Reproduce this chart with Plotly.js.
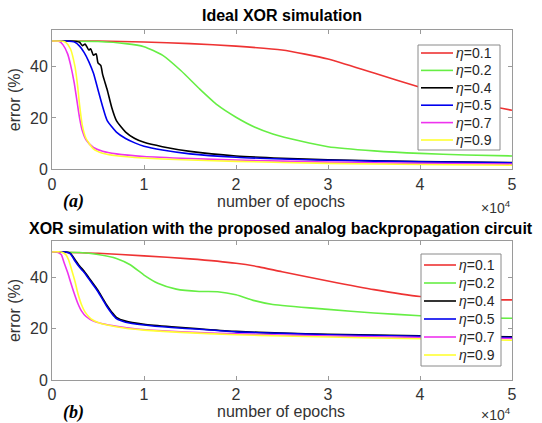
<!DOCTYPE html>
<html>
<head>
<meta charset="utf-8">
<script src="https://cdn.plot.ly/plotly-3.0.1.min.js"></script>
<style>html,body{margin:0;padding:0;background:#fff;}#chart{width:542px;height:423px;}</style>
</head>
<body>
<div id="chart"></div>
<script>
// x values in units of 10^4 epochs
const labels = ["η=0.1","η=0.2","η=0.4","η=0.5","η=0.7","η=0.9"];
const colors = ["#ee3333","#66ee44","#000000","#0000ee","#ee33ee","#ffff33"];

// (a) Ideal XOR simulation
const a_x01 = [0,0.5,1,1.5,2,2.5,3,3.5,4,4.5,5];
const a_y01 = [50,50,49.6,49,48,46.5,43,37.5,32,26.5,23];
const a_x02 = [0,0.5,0.8,1,1.2,1.4,1.6,1.8,2,2.2,2.4,2.7,3,3.5,4,4.5,5];
const a_y02 = [50,49.8,49,47.8,44.5,38.5,31.5,25,20.3,16.5,13.8,11,8.8,7.2,6.2,5.6,5.2];
const a_x04 = [0,0.2,0.3,0.33,0.36,0.4,0.42,0.45,0.48,0.5,0.53,0.55,0.6,0.65,0.7,0.8,0.9,1,1.2,1.5,2,2.5,3,4,5];
const a_y04 = [50,50,49.5,48.2,48.8,46.5,47,44.5,45,41.5,40.5,37,31,24,19,14.5,12,10.5,8.8,7,5.2,4.3,3.7,3.0,2.6];
const a_x05 = [0,0.15,0.25,0.3,0.35,0.4,0.45,0.5,0.55,0.6,0.7,0.8,0.9,1,1.2,1.5,2,2.5,3,4,5];
const a_y05 = [50,50,49.5,48,45.5,42,37.5,31,24.5,19,14.5,12,10.3,9,7.5,6,4.7,4,3.5,2.9,2.5];
const a_x07 = [0,0.08,0.12,0.17,0.2,0.24,0.27,0.3,0.33,0.37,0.45,0.55,0.7,1,1.5,2,3,4,5];
const a_y07 = [50,49.8,48.5,45,41,34,27,20,15,11.5,8.5,7,6,5,4.2,3.6,2.8,2.3,2];
const a_x09 = [0,0.1,0.15,0.2,0.25,0.28,0.3,0.33,0.37,0.45,0.55,0.7,1,1.5,2,3,4,5];
const a_y09 = [50,50,49.5,47,40,32,25,17,12,8,6.3,5.3,4.4,3.6,3.1,2.3,1.9,1.6];

// (b) XOR simulation with the proposed analog backpropagation circuit
const b_x01 = [0,0.5,1,1.5,2,2.25,2.5,3,3.5,4,4.5,5];
const b_y01 = [50,49.5,48.5,47.3,45.6,44.2,42.3,38.7,35.3,32.6,31.6,31.3];
const b_x02 = [0,0.3,0.5,0.7,0.85,1,1.15,1.35,1.6,1.8,2,2.2,2.4,3,3.5,4,4.5,5];
const b_y02 = [50,49.8,49,47.5,45,41,37.8,35.5,34.6,34.5,33.3,31,29.5,27.6,26.2,25.1,24.4,24.1];
const b_x04 = [0,0.15,0.2,0.25,0.3,0.35,0.4,0.45,0.5,0.55,0.6,0.65,0.7,0.8,1,1.3,1.6,2,2.5,3,4,5];
const b_y04 = [50,50,49.5,47,44.5,42.5,40,37.5,35,32,29,26.5,24.5,23,21.8,20.8,20,19,18.3,17.9,17.3,16.9];
const b_x05 = [0,0.15,0.2,0.25,0.3,0.35,0.4,0.45,0.5,0.55,0.6,0.65,0.7,0.8,1,1.3,1.6,2,2.5,3,4,5];
const b_y05 = [50,50,49.3,46.5,44,42,39.5,37,34.5,31.5,28.5,26,24,22.6,21.5,20.5,19.8,18.8,18.2,17.7,17.1,16.6];
const b_x07 = [0,0.05,0.1,0.13,0.17,0.2,0.24,0.28,0.32,0.37,0.45,0.55,0.7,0.9,1.2,1.6,2,2.5,3,4,5];
const b_y07 = [50,50,49,46,42,38.5,34,30,27,24.8,23,22,21,20,19.2,18.5,18,17.6,17.2,16.6,16.2];
const b_x09 = [0,0.1,0.15,0.18,0.21,0.25,0.28,0.32,0.36,0.42,0.5,0.6,0.8,1,1.4,2,2.5,3,4,5];
const b_y09 = [50,50,49,47,43.5,38.5,34,29.5,26.5,24,22.5,21.5,20.2,19.5,18.6,17.7,17.2,16.8,16.1,15.5];

const aX = [a_x01,a_x02,a_x04,a_x05,a_x07,a_x09];
const aY = [a_y01,a_y02,a_y04,a_y05,a_y07,a_y09];
const bX = [b_x01,b_x02,b_x04,b_x05,b_x07,b_x09];
const bY = [b_y01,b_y02,b_y04,b_y05,b_y07,b_y09];

const xTicks = [0,1,2,3,4,5];
const yTicks = [0,20,40];

const traces = [];
for (let i = 0; i < labels.length; i++) {
  traces.push({x: aX[i], y: aY[i], mode: 'lines', name: labels[i], showlegend: false,
    line: {color: colors[i], width: 1.6, shape: 'spline', smoothing: 0.6},
    xaxis: 'x', yaxis: 'y'});
}
for (let i = 0; i < labels.length; i++) {
  traces.push({x: bX[i], y: bY[i], mode: 'lines', name: labels[i], showlegend: false,
    line: {color: colors[i], width: 1.6, shape: 'spline', smoothing: 0.6},
    xaxis: 'x2', yaxis: 'y2'});
}

const FAM = 'Liberation Sans, Arial, sans-serif';
const font = {family: FAM, size: 16, color: '#333333'};
const axisCommon = {showgrid: false, zeroline: false, showline: true, linecolor: '#9a9a9a', linewidth: 1,
  mirror: 'allticks', ticks: 'inside', ticklen: 4, tickcolor: '#9a9a9a', tickfont: font};

// pixel -> paper helpers (plot area: x 52..512, y 30..380)
function xp(p) { return (p - 52) / 460; }
function yp(p) { return (380 - p) / 350; }

const shapes = [];
const annotations = [
  {text: '<b>Ideal XOR simulation</b>', xref: 'paper', yref: 'paper', x: xp(282), y: yp(16),
    showarrow: false, xanchor: 'center', yanchor: 'middle', font: {family: FAM, size: 16, color: '#000'}},
  {text: '<b>XOR simulation with the proposed analog backpropagation circuit</b>', xref: 'paper', yref: 'paper', x: xp(281), y: yp(228),
    showarrow: false, xanchor: 'center', yanchor: 'middle', font: {family: FAM, size: 16, color: '#000'}},
  {text: 'number of epochs', xref: 'paper', yref: 'paper', x: xp(281), y: yp(201),
    showarrow: false, xanchor: 'center', yanchor: 'middle', font: font},
  {text: 'number of epochs', xref: 'paper', yref: 'paper', x: xp(281), y: yp(411),
    showarrow: false, xanchor: 'center', yanchor: 'middle', font: font},
  {text: '×10<sup>4</sup>', xref: 'paper', yref: 'paper', x: xp(513), y: yp(207),
    showarrow: false, xanchor: 'right', yanchor: 'middle', font: {family: FAM, size: 14, color: '#333333'}},
  {text: '×10<sup>4</sup>', xref: 'paper', yref: 'paper', x: xp(513), y: yp(414),
    showarrow: false, xanchor: 'right', yanchor: 'middle', font: {family: FAM, size: 14, color: '#333333'}},
  {text: '<b><i>(a)</i></b>', xref: 'paper', yref: 'paper', x: xp(73), y: yp(201),
    showarrow: false, xanchor: 'center', yanchor: 'middle', font: {family: 'Liberation Serif, Times New Roman, serif', size: 18, color: '#000'}},
  {text: '<b><i>(b)</i></b>', xref: 'paper', yref: 'paper', x: xp(73), y: yp(412),
    showarrow: false, xanchor: 'center', yanchor: 'middle', font: {family: 'Liberation Serif, Times New Roman, serif', size: 18, color: '#000'}}
];

// legend boxes (drawn as shapes + text, matching the reference's compact spacing)
function addLegend(boxL, boxT, boxR, boxB, firstY, step, lineL, lineR, textL) {
  shapes.push({type: 'rect', xref: 'paper', yref: 'paper', x0: xp(boxL), x1: xp(boxR), y0: yp(boxB), y1: yp(boxT),
    line: {color: '#8a8a8a', width: 1}, fillcolor: '#ffffff', layer: 'above'});
  for (let i = 0; i < labels.length; i++) {
    const y = firstY + i * step;
    shapes.push({type: 'line', xref: 'paper', yref: 'paper', x0: xp(lineL), x1: xp(lineR), y0: yp(y), y1: yp(y),
      line: {color: colors[i], width: 1.6}, layer: 'above'});
    annotations.push({text: labels[i].replace('η', '<i>η</i>'), xref: 'paper', yref: 'paper', x: xp(textL), y: yp(y),
      showarrow: false, xanchor: 'left', yanchor: 'middle', font: {family: FAM, size: 14, color: '#262626'}});
  }
}
addLegend(418, 45, 500, 150, 53, 17.4, 421, 453, 454);
addLegend(421, 254, 501, 366, 265, 18, 424, 456, 457);

const layout = {
  width: 542, height: 423,
  margin: {l: 52, r: 30, t: 30, b: 43},
  paper_bgcolor: '#ffffff', plot_bgcolor: '#ffffff',
  font: font,
  showlegend: false,
  xaxis: Object.assign({}, axisCommon, {domain: [0,1], range: [0,5], tickvals: xTicks, anchor: 'y'}),
  yaxis: Object.assign({}, axisCommon, {domain: [yp(169.3), 1], range: [0,54.3], tickvals: yTicks, anchor: 'x',
    title: {text: 'error (%)', font: font, standoff: 5}}),
  xaxis2: Object.assign({}, axisCommon, {domain: [0,1], range: [0,5], tickvals: xTicks, anchor: 'y2'}),
  yaxis2: Object.assign({}, axisCommon, {domain: [0, yp(241)], range: [0,54.3], tickvals: yTicks, anchor: 'x2',
    title: {text: 'error (%)', font: font, standoff: 5}}),
  shapes: shapes,
  annotations: annotations
};

Plotly.newPlot('chart', traces, layout, {displayModeBar: false, staticPlot: true});
</script>
</body>
</html>
